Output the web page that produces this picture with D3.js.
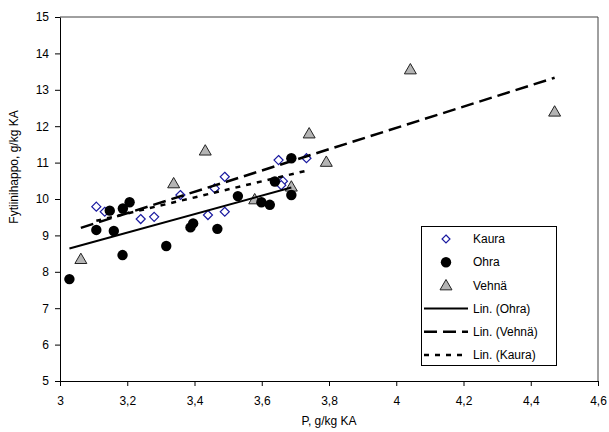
<!DOCTYPE html>
<html>
<head>
<meta charset="utf-8">
<script src="https://cdn.jsdelivr.net/npm/d3@7"></script>
<style>
  body { margin: 0; background: #fff; }
  svg { font-family: "Liberation Sans", Arial, sans-serif; }
</style>
</head>
<body>
<div id="chart"></div>
<script>
// P (g/kg KA) and phytic acid (g/kg KA)
var kauraP   = [3.108, 3.133, 3.240, 3.280, 3.358, 3.460, 3.490, 3.440, 3.490, 3.650, 3.733, 3.663, 3.658];
var kauraFyt = [9.79, 9.65, 9.45, 9.51, 10.11, 10.29, 10.61, 9.56, 9.65, 11.07, 11.12, 10.49, 10.38];

var ohraP   = [3.028, 3.108, 3.160, 3.148, 3.187, 3.207, 3.186, 3.316, 3.388, 3.396, 3.468, 3.529, 3.599, 3.624, 3.639, 3.688, 3.688];
var ohraFyt = [7.80, 9.15, 9.12, 9.68, 9.74, 9.91, 8.46, 8.71, 9.22, 9.33, 9.18, 10.08, 9.91, 9.84, 10.48, 11.12, 10.11];

var vehnaP   = [3.062, 3.338, 3.432, 3.579, 3.688, 3.741, 3.792, 4.042, 4.471];
var vehnaFyt = [8.35, 10.43, 11.33, 9.99, 10.34, 11.80, 11.02, 13.56, 12.40];

var xTicks = [3, 3.2, 3.4, 3.6, 3.8, 4, 4.2, 4.4, 4.6];
var yTicks = [5, 6, 7, 8, 9, 10, 11, 12, 13, 14, 15];

var width = 609, height = 432;
var margin = { top: 17, right: 11, bottom: 51, left: 60 };

var svg = d3.select("#chart").append("svg")
  .attr("width", width).attr("height", height);

var x = d3.scaleLinear().domain([3, 4.6]).range([margin.left, width - margin.right]);
var y = d3.scaleLinear().domain([5, 15]).range([height - margin.bottom, margin.top]);

var fmt = function (d) { return String(d).replace(".", ","); };

// plot frame (top + right)
svg.append("path")
  .attr("d", "M" + x(3) + "," + y(15) + "H" + x(4.6) + "V" + y(5))
  .attr("fill", "none").attr("stroke", "#404040").attr("stroke-width", 1);

var xAxis = svg.append("g")
  .attr("transform", "translate(0," + y(5) + ")")
  .call(d3.axisBottom(x).tickValues(xTicks).tickFormat(fmt).tickSize(5).tickSizeOuter(0));
var yAxis = svg.append("g")
  .attr("transform", "translate(" + x(3) + ",0)")
  .call(d3.axisLeft(y).tickValues(yTicks).tickFormat(fmt).tickSize(5).tickSizeOuter(0));

[xAxis, yAxis].forEach(function (g) {
  g.select(".domain").attr("stroke", "#000");
  g.selectAll(".tick line").attr("stroke", "#000");
  g.selectAll(".tick text").attr("font-size", 12).attr("fill", "#000")
    .attr("font-family", "Liberation Sans, Arial, sans-serif");
});
xAxis.selectAll(".tick text").attr("dy", "1.3em");
yAxis.selectAll(".tick text").attr("x", -11);

svg.append("text")
  .attr("x", (x(3) + x(4.6)) / 2).attr("y", 425)
  .attr("text-anchor", "middle").attr("font-size", 12)
  .text("P, g/kg KA");
svg.append("text")
  .attr("transform", "translate(18,167) rotate(-90)")
  .attr("text-anchor", "middle").attr("font-size", 12)
  .text("Fytiinihappo, g/kg KA");

// least squares trendline
function linFit(xs, ys) {
  var mx = d3.mean(xs), my = d3.mean(ys);
  var sxy = d3.sum(xs, function (v, i) { return (v - mx) * (ys[i] - my); });
  var sxx = d3.sum(xs, function (v) { return (v - mx) * (v - mx); });
  var b = sxy / sxx, a = my - b * mx;
  var x0 = d3.min(xs), x1 = d3.max(xs);
  return [[x0, a + b * x0], [x1, a + b * x1]];
}

var line = d3.line().x(function (d) { return x(d[0]); }).y(function (d) { return y(d[1]); });

var trends = [
  { fit: linFit(ohraP, ohraFyt), dash: null, w: 2 },
  { fit: linFit(vehnaP, vehnaFyt), dash: "13,6", w: 2.5 },
  { fit: linFit(kauraP, kauraFyt), dash: "5,6", w: 2.5 }
];

// markers
function drawKaura(g, px, py, sz) {
  g.append("path").attr("d", d3.symbol().type(d3.symbolDiamond2).size(sz || 52)())
    .attr("transform", "translate(" + px + "," + py + ")")
    .attr("fill", "#fff").attr("stroke", "#1a1aa0").attr("stroke-width", 1.2);
}
function drawOhra(g, px, py) {
  g.append("circle").attr("cx", px).attr("cy", py).attr("r", 5.2).attr("fill", "#000");
}
function drawVehna(g, px, py) {
  g.append("path").attr("d", d3.symbol().type(d3.symbolTriangle).size(62)())
    .attr("transform", "translate(" + px + "," + (py + 1) + ")")
    .attr("fill", "#b4b4b4").attr("stroke", "#222").attr("stroke-width", 1);
}

var pts = svg.append("g");
vehnaP.forEach(function (p, i) { drawVehna(pts, x(p), y(vehnaFyt[i])); });
kauraP.forEach(function (p, i) { drawKaura(pts, x(p), y(kauraFyt[i])); });
ohraP.forEach(function (p, i) { drawOhra(pts, x(p), y(ohraFyt[i])); });

svg.append("g").selectAll("path").data(trends).enter().append("path")
  .attr("d", function (d) { return line(d.fit); })
  .attr("fill", "none").attr("stroke", "#000")
  .attr("stroke-width", function (d) { return d.w; })
  .attr("stroke-dasharray", function (d) { return d.dash; });

// legend
var lg = svg.append("g");
lg.append("rect").attr("x", 421.5).attr("y", 226.5).attr("width", 135).attr("height", 139)
  .attr("fill", "#fff").attr("stroke", "#000");
var legendNames = ["Kaura", "Ohra", "Vehnä", "Lin. (Ohra)", "Lin. (Vehnä)", "Lin. (Kaura)"];
legendNames.forEach(function (name, i) {
  var ly = 239 + i * 23.2;
  if (i === 0) drawKaura(lg, 446, ly, 40);
  if (i === 1) drawOhra(lg, 446, ly);
  if (i === 2) drawVehna(lg, 446, ly);
  if (i >= 3) {
    var t = trends[i - 3];
    lg.append("line").attr("x1", 424).attr("x2", 468).attr("y1", ly).attr("y2", ly)
      .attr("stroke", "#000").attr("stroke-width", t.w).attr("stroke-dasharray", t.dash);
  }
  lg.append("text").attr("x", 473).attr("y", ly).attr("dy", "0.35em")
    .attr("font-size", 12).text(name);
});
</script>
</body>
</html>
